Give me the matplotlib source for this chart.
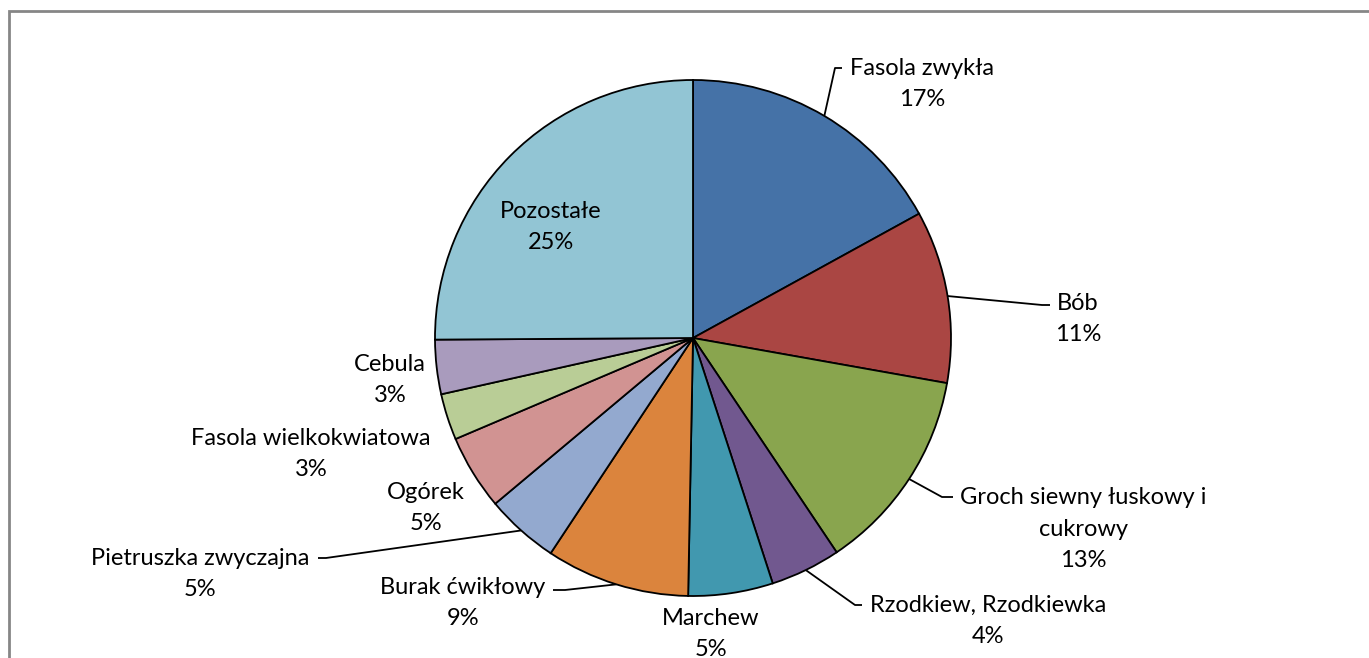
import numpy as np
import matplotlib
matplotlib.use("Agg")
import matplotlib.pyplot as plt
from matplotlib.patches import Rectangle

plt.rcParams['font.family'] = ['Lato', 'DejaVu Sans']

# share of each crop (percent), clockwise from 12 o'clock
crops = ["Fasola zwykła", "Bób", "Groch siewny łuskowy i\ncukrowy",
         "Rzodkiew, Rzodkiewka", "Marchew", "Burak ćwikłowy",
         "Pietruszka zwyczajna", "Ogórek", "Fasola wielkokwiatowa",
         "Cebula", "Pozostałe"]
shares = [17.0, 10.8, 12.8, 4.4, 5.3, 9.0, 4.6, 4.7, 2.9, 3.4, 25.1]
colors = ["#4572A7", "#AA4643", "#89A54E", "#71588F", "#4198AF", "#DB843D",
          "#93A9CF", "#D19392", "#B9CD96", "#A99BBD", "#92C5D4"]

W, H = 1369, 658
fig = plt.figure(figsize=(W / 100, H / 100), dpi=100)
ax = fig.add_axes([0, 0, 1, 1])


def py(y):
    # pixel row (from top) -> data y
    return H - y


cx, cy, r = 693, py(338), 258
wedges, _ = ax.pie(shares, colors=colors, startangle=90, counterclock=False,
                   center=(cx, cy), radius=r, frame=True,
                   wedgeprops=dict(edgecolor='black', linewidth=1.3))
ax.set_xlim(0, W)
ax.set_ylim(0, H)
ax.set_aspect('equal')
ax.axis('off')

# label centre (px from top-left), optional leader: (elbow, end) in px
label_pos = [(922, 84), (1078, 319), (1083, 529), (988, 621), (711, 634),
             (463, 603), (200, 574), (426, 508), (311, 454), (390, 380),
             (551, 227)]
leaders = {0: ((835, 68), (842, 68)),
           1: ((1042, 305), (1050, 305)),
           2: ((942, 497), (953, 497)),
           3: ((855, 605), (862, 605)),
           5: ((565, 590), (553, 590)),
           6: ((326, 558), (318, 558))}

for i, (name, val) in enumerate(zip(crops, shares)):
    x, y = label_pos[i]
    ax.text(x, py(y), f"{name}\n{round(val)}%", ha='center', va='center',
            fontsize=17, linespacing=1.62, color='black')
    if i in leaders:
        w = wedges[i]
        mid = np.deg2rad((w.theta1 + w.theta2) / 2)
        ex, ey = cx + r * np.cos(mid), cy + r * np.sin(mid)
        (bx, by), (tx, ty) = leaders[i]
        ax.plot([ex, bx, tx], [ey, py(by), py(ty)], color='black', lw=1.3,
                solid_capstyle='butt', zorder=0.5)

# chart area frame
ax.add_patch(Rectangle((9, -20), 2000, py(11) + 20, fill=False,
                       edgecolor='#868686', lw=2))

fig.savefig("out.png", dpi=100)
